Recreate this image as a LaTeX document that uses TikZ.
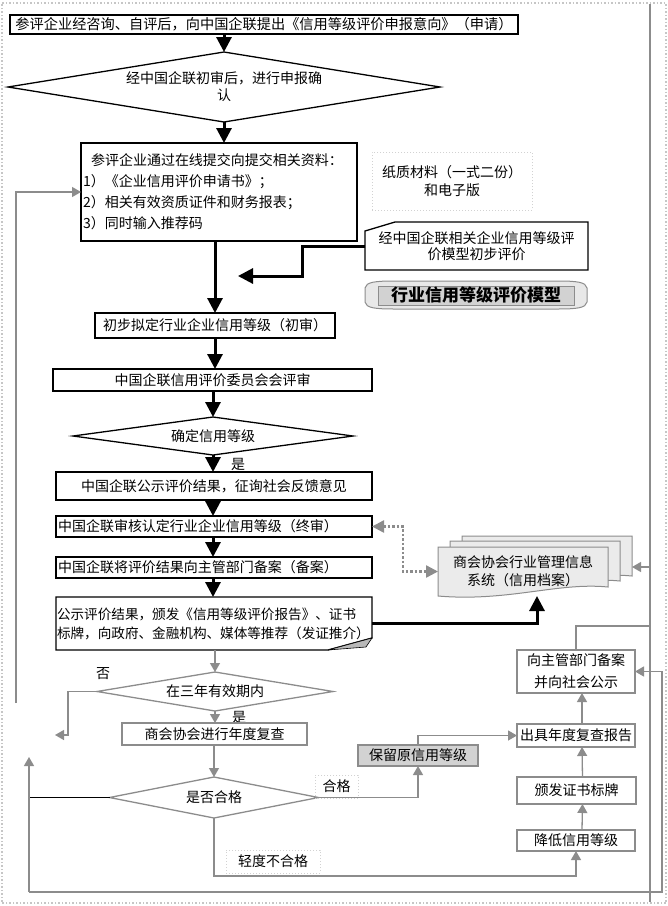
\documentclass[tikz,border=0pt]{standalone}
\usepackage{fontspec}
\newfontfamily\cjk{Noto Sans CJK SC}
\usetikzlibrary{shapes.geometric,arrows.meta,calc,backgrounds}
\definecolor{lg}{HTML}{8C8C8C}
\begin{document}
\begin{tikzpicture}[x=1pt,y=-1pt,
  every node/.style={font=\cjk\fontsize{14}{17}\selectfont, inner sep=0pt, outer sep=0pt},
  rect/.style 2 args={minimum width=#1, minimum height=#2, anchor=north west},
  bbox/.style={draw=black, line width=1.3pt},
  gbox/.style={draw=lg, line width=1.2pt},
  dia/.style={diamond, line width=1.3pt},
  bigarr/.style={line width=3pt, -{Triangle[length=15pt,width=15pt]}},
  garr/.style={draw=lg, line width=1.3pt, -{Triangle[length=9pt,width=10pt]}},
  dotarr/.style={draw=lg, line width=2.5pt, dash pattern=on 2.5pt off 2pt, {Triangle[length=12pt,width=12pt]}-{Triangle[length=12pt,width=12pt]}},
  note/.style={draw=gray!35, dotted, line width=1pt},
]
\useasboundingbox (0,0) rectangle (668,906);

% ---------- upper column ----------
\node[rect={508}{19}, bbox, font=\cjk\fontsize{14.2}{17}\selectfont] (n1) at (10,15) {参评企业经咨询、自评后，向中国企联提出《信用等级评价申报意向》（申请）};
\node[dia, draw=black, aspect=6.17, minimum width=432, minimum height=70, align=center] (d1) at (224,87) {经中国企联初审后，进行申报确\\认};
\node[rect={276}{98}, bbox, align=left, text width=272, inner xsep=2pt, font=\cjk\fontsize{14}{21}\selectfont] (b3) at (81,143) {\hspace*{8pt}参评企业通过在线提交向提交相关资料：\\1）《企业信用评价申请书》；\\2）相关有效资质证件和财务报表；\\3）同时输入推荐码\\[-6pt]};
\node[rect={160}{58}, note, align=center, font=\cjk\fontsize{14}{18}\selectfont] (paper) at (372,152) {纸质材料（一式二份）\\和电子版};
\node[rect={223}{48}, align=center, font=\cjk\fontsize{14}{16}\selectfont] (c1) at (365,222) {经中国企联相关企业信用等级评\\价模型初步评价};
\draw[black, line width=1.3pt] (c1.south west) -- ($(c1.north west)+(0,9)$) -- ($(c1.north west)+(30,0)$) -- (c1.north east) -- (c1.south east) -- cycle;
\node[rect={222}{30}, font=\cjk\fontsize{17}{18}\selectfont\bfseries] (cyl) at (365,280) {行业信用等级评价模型};

\node[rect={240}{25}, bbox] (pre) at (95,313) {初步拟定行业企业信用等级（初审）};
\node[rect={319}{22}, bbox] (com) at (53,369) {中国企联信用评价委员会会评审};
\node[dia, draw=black, aspect=7.37, minimum width=280, minimum height=38] (d2) at (213,436) {确定信用等级};
\node (yes1) at (238,464) {是};
\node[rect={316}{28}, bbox] (pubr) at (56,472) {中国企联公示评价结果，征询社会反馈意见};
\node[rect={316}{21}, bbox, align=left, text width=312, inner xsep=2pt] (fin) at (56,516) {中国企联审核认定行业企业信用等级（终审）};
\node[rect={316}{21}, bbox, align=left, text width=312, inner xsep=2pt] (rec) at (56,557) {中国企联将评价结果向主管部门备案（备案）};
\node[rect={316}{53}, align=left, text width=314, inner xsep=1pt, font=\cjk\fontsize{13.6}{19}\selectfont] (pub) at (56,597) {公示评价结果，颁发《信用等级评价报告》、证书\\标牌，向政府、金融机构、媒体等推荐（发证推介）};
\draw[black, line width=1.3pt] (pub.south west) -- (pub.north west) -- (pub.north east) -- ($(pub.north east)+(0,41)$) -- ($(pub.south west)+(272,0)$) -- cycle;
\fill[gray!55, draw=black, line width=0.6pt] ($(pub.north east)+(0,41)$) -- ($(pub.south west)+(272,0)$) -- ($(pub.north east)+(-6,50)$) -- cycle;

\node[rect={170}{49}, align=center, font=\cjk\fontsize{14}{18}\selectfont] (sys) at (438,547) {商会协会行业管理信息\\系统（信用档案）};

% ---------- lower part ----------
\node[dia, draw=lg, aspect=6.05, minimum width=236, minimum height=39] (d3) at (215,691.5) {在三年有效期内};
\node (no1) at (103,674) {否};
\node (yes2) at (239,717) {是};
\node[rect={185}{22}, gbox] (rev) at (122,723) {商会协会进行年度复查};
\node[dia, draw=lg, aspect=5.1, minimum width=209, minimum height=41] (d4) at (214,797.5) {是否合格};
\node[rect={120}{21}, gbox, fill=gray!35] (keep) at (358,745) {保留原信用等级};
\node[rect={43}{23}, note] (ok) at (315,775) {合格};
\node[rect={118}{23}, gbox] (report) at (517,724) {出具年度复查报告};
\node[rect={118}{43}, gbox, align=center, font=\cjk\fontsize{14}{22}\selectfont] (ann) at (517,650) {向主管部门备案\\并向社会公示};
\node[rect={119}{27}, gbox] (cert) at (517,777) {颁发证书标牌};
\node[rect={118}{21}, gbox] (lower) at (517,830) {降低信用等级};
\node[rect={94}{23}, note] (mild) at (226,850) {轻度不合格};

\coordinate (cin) at (238,276);
\coordinate (sysb) at (537,596);
\coordinate (sysr) at (632,567);
\coordinate (nofree) at (55,735);
\coordinate (lb) at (29,892);
\coordinate (lt) at (29,757);
\coordinate (rb) at (662,892);
\coordinate (lfree) at (16,703);

% ---------- main connectors ----------
\draw[bigarr] (d1.north |- n1.south) -- (d1.north);
\draw[bigarr] (d1.south) -- (d1.south |- b3.north);
\draw[bigarr] (c1.west) -- ++(-63,0) |- (cin);
\draw[bigarr] (pre.north |- b3.south) -- (pre.north);
\draw[bigarr] (pre.south) -- (pre.south |- com.north);
\draw[bigarr] (com.south -| d2.north) -- (d2.north);
\draw[bigarr] (d2.south) -- (d2.south |- pubr.north);
\draw[bigarr] (pubr.south -| d2.south) -- (fin.north -| d2.south);
\draw[bigarr] (fin.south -| d2.south) -- (rec.north -| d2.south);
\draw[bigarr] (rec.south -| d2.south) -- (pub.north -| d2.south);
\draw[bigarr] (pub.east) -| (sysb);
\draw[dotarr] (fin.east) -- ++(31,0) |- (sys.west);

% ---------- gray connectors ----------
\draw[garr] (d3.north |- pub.south) -- (d3.north);
\draw[garr] (d3.west) -| ($(nofree)+(13,0)$) -- (nofree);
\draw[garr] (d3.south) -- (d3.south |- rev.north);
\draw[garr] (rev.south -| d4.north) -- (d4.north);
\draw[garr] (d4.east) -| (keep.south);
\draw[garr] (keep.north) |- (report.west);
\draw[garr] ($(report.north)+(6,0)$) -- ($(ann.south)+(6,0)$);
\draw[garr] ($(cert.north)+(6,0)$) -- ($(report.south)+(6,0)$);
\draw[garr] ($(lower.north)+(6,0)$) -- ($(cert.south)+(6,0)$);
\draw[garr] (d4.south) |- ($(lower.south)+(0,25)$) -- (lower.south);
\draw[black, line width=1pt] (d4.west) -- (d4.west -| lb);
\draw[garr] (lb) -- (lt);
\draw[garr] (lb) -- (rb) |- (ann.east);
\draw[garr] (lfree) |- (b3.west);
\draw[garr] (ann.north) |- (650,626) |- (sysr);

% ---------- background decorations ----------
\begin{scope}[on background layer]
\fill[white] (0,0) rectangle (668,906);
\draw[gray!45, dotted, line width=1.5pt] (2,3) -- (666,3) -- (666,903) -- (2,903) -- cycle;
\draw[lg, line width=1.2pt] (650,4) -- (650,902);
\draw[lg, line width=1pt, fill=gray!18] (365,288) .. controls (366,282) and (375,281) .. (395,281) -- (557,281) .. controls (577,281) and (586,282) .. (587,288) -- (587,302) .. controls (586,308) and (577,309) .. (557,309) -- (395,309) .. controls (375,309) and (366,308) .. (365,302) -- cycle;
\draw[lg, line width=0.8pt, fill=gray!35] (378,286) rectangle (574,305);
\foreach \dx/\dy in {24/-11, 12/-6, 0/0} {
  \draw[lg, line width=1pt, fill=gray!16] ($(sys.north west)+(\dx,\dy)$) -- ($(sys.north east)+(\dx,\dy)$) -- ($(sys.south east)+(\dx,\dy-9)$) .. controls ($(sys.south east)+(\dx-50,\dy-14)$) and ($(sys.south west)+(\dx+70,\dy+6)$) .. ($(sys.south west)+(\dx,\dy)$) -- cycle;
}
\end{scope}
\end{tikzpicture}
\end{document}
